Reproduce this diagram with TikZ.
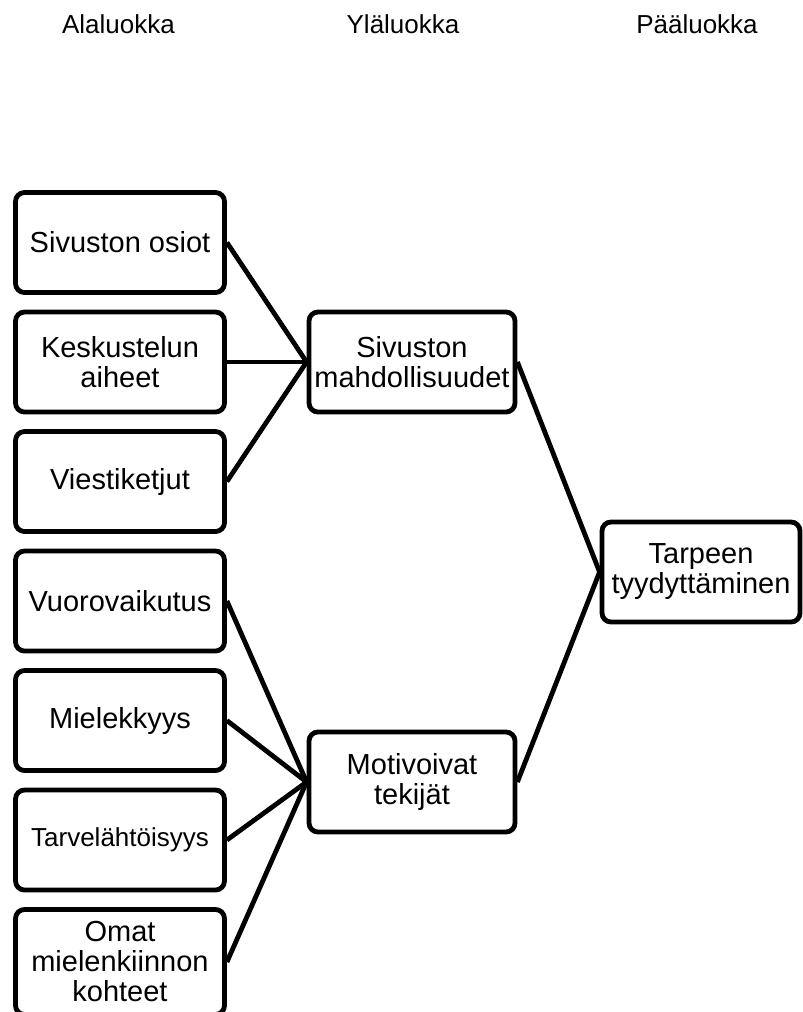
\documentclass[tikz,border=0pt]{standalone}
\usepackage{fontspec}
\setmainfont{Liberation Sans}
\begin{document}
\begin{tikzpicture}[x=1pt,y=-1pt,
  box/.style={draw, line width=4.8pt, rounded corners=9pt, inner sep=0pt, align=center,
    font=\fontsize{29}{30}\selectfont},
  leftbox/.style={box, minimum width=209pt, minimum height=100pt},
  midbox/.style={box, minimum width=206pt, minimum height=100pt},
  topbox/.style={box, minimum width=198pt, minimum height=100pt},
  head/.style={inner sep=0pt, anchor=base, font=\fontsize{26}{28}\selectfont},
  conn/.style={line width=4.8pt}]
\useasboundingbox (0,0) rectangle (803,1012);
\clip (0,0) rectangle (803,1012);
\node[head] (h1) at (118.5,33) {Alaluokka};
\node[head] (h2) at (403,33) {Yläluokka};
\node[head] (h3) at (697,33) {Pääluokka};

\node[leftbox] (a1) at (120,242.5) {Sivuston osiot};
\node[leftbox] (a2) at (120,362) {Keskustelun\\aiheet};
\node[leftbox] (a3) at (120,481.5) {Viestiketjut};
\node[leftbox] (a4) at (120,601) {Vuorovaikutus};
\node[leftbox] (a5) at (120,720.5) {Mielekkyys};
\node[leftbox, font=\fontsize{26}{28}\selectfont] (a6) at (120,840) {Tarvelähtöisyys};
\node[leftbox, minimum height=105pt] (a7) at (120,962) {Omat\\mielenkiinnon\\kohteet};

\node[midbox] (m1) at (412,362) {Sivuston\\mahdollisuudet};
\node[midbox] (m2) at (412,782) {Motivoivat\\tekijät};

\node[topbox] (t) at (701,572) {Tarpeen\\tyydyttäminen};

\foreach \i in {a1,a2,a3} \draw[conn] (\i.east) -- (m1.west);
\foreach \i in {a4,a5,a6,a7} \draw[conn] (\i.east) -- (m2.west);
\draw[conn] (m1.east) -- (t.west);
\draw[conn] (m2.east) -- (t.west);
\end{tikzpicture}
\end{document}
